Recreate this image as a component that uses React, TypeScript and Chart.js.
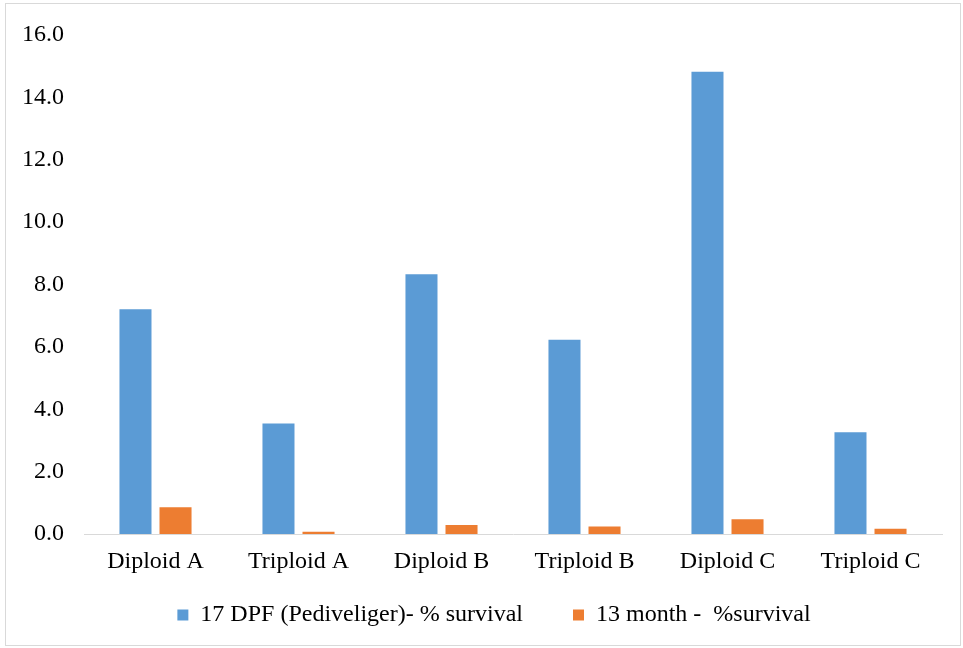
import React, { useEffect, useRef } from "react";
import { Chart, registerables } from "chart.js";

Chart.register(...registerables);

const categories = ["Diploid A", "Triploid A", "Diploid B", "Triploid B", "Diploid C", "Triploid C"];
const pediveligerSurvival = [7.21, 3.54, 8.33, 6.23, 14.82, 3.26];
const monthSurvival = [0.86, 0.07, 0.29, 0.24, 0.47, 0.17];
const seriesNames = ["17 DPF (Pediveliger)- % survival", "13 month -  %survival"];
const yTicks = [0, 2, 4, 6, 8, 10, 12, 14, 16];

const FONT = "'Liberation Serif', 'Times New Roman', serif";
const FS = 24;

const legendFix = {
  id: "legendFix",
  beforeInit(chart: any) {
    const lg = chart.legend;
    if (!lg) return;
    const orig = lg.fit;
    lg.fit = function (this: any) {
      orig.call(this);
      this.height = 44;
    };
  },
  afterLayout(chart: any) {
    const lg = chart.legend;
    if (!lg) return;
    lg.top = 553;
    lg.bottom = 648;
    lg.height = 95;
    lg.left += 23;
    lg.right += 23;
  },
};

export default function App() {
  const ref = useRef<HTMLCanvasElement | null>(null);

  useEffect(() => {
    document.body.style.margin = "0";
    const ctx = ref.current!;
    const chart = new Chart(ctx, {
      type: "bar",
      data: {
        labels: categories,
        datasets: [
          {
            label: seriesNames[0],
            data: pediveligerSurvival,
            backgroundColor: "#5B9BD5",
            barPercentage: 0.8,
            categoryPercentage: 0.56,
          },
          {
            label: seriesNames[1],
            data: monthSurvival,
            backgroundColor: "#ED7D31",
            barPercentage: 0.8,
            categoryPercentage: 0.56,
          },
        ],
      },
      options: {
        animation: false,
        responsive: false,
        maintainAspectRatio: false,
        layout: { padding: { left: 0, right: 21, top: 35, bottom: 13 } },
        plugins: {
          tooltip: { enabled: false },
          legend: {
            position: "bottom",
            labels: {
              font: { family: FONT, size: FS },
              color: "#000",
              boxWidth: 11,
              boxHeight: 11,
              padding: 50,
            },
          },
        },
        scales: {
          x: {
            afterFit: (scale: any) => {
              scale.height = 57;
            },
            grid: { display: false, drawTicks: false },
            border: { display: true, color: "#D9D9D9", width: 1 },
            ticks: {
              font: { family: FONT, size: FS },
              color: "#000",
              padding: 13,
              maxRotation: 0,
            },
          },
          y: {
            min: 0,
            max: 16,
            afterFit: (scale: any) => {
              scale.width = 84;
            },
            afterBuildTicks: (scale: any) => {
              scale.ticks = yTicks.map((v) => ({ value: v }));
            },
            grid: { display: false, drawTicks: false },
            border: { display: false },
            ticks: {
              font: { family: FONT, size: FS },
              color: "#000",
              padding: 20,
              callback: (v: any) => Number(v).toFixed(1),
            },
          },
        },
      },
      plugins: [legendFix],
    });
    return () => chart.destroy();
  }, []);

  return (
    <div style={{ position: "relative", width: 963, height: 648, background: "#fff" }}>
      <div
        style={{
          position: "absolute",
          left: 5,
          top: 3,
          width: 956,
          height: 643,
          border: "1px solid #D9D9D9",
          boxSizing: "border-box",
        }}
      />
      <canvas ref={ref} width={963} height={648} style={{ position: "absolute", left: 0, top: 0 }} />
    </div>
  );
}
